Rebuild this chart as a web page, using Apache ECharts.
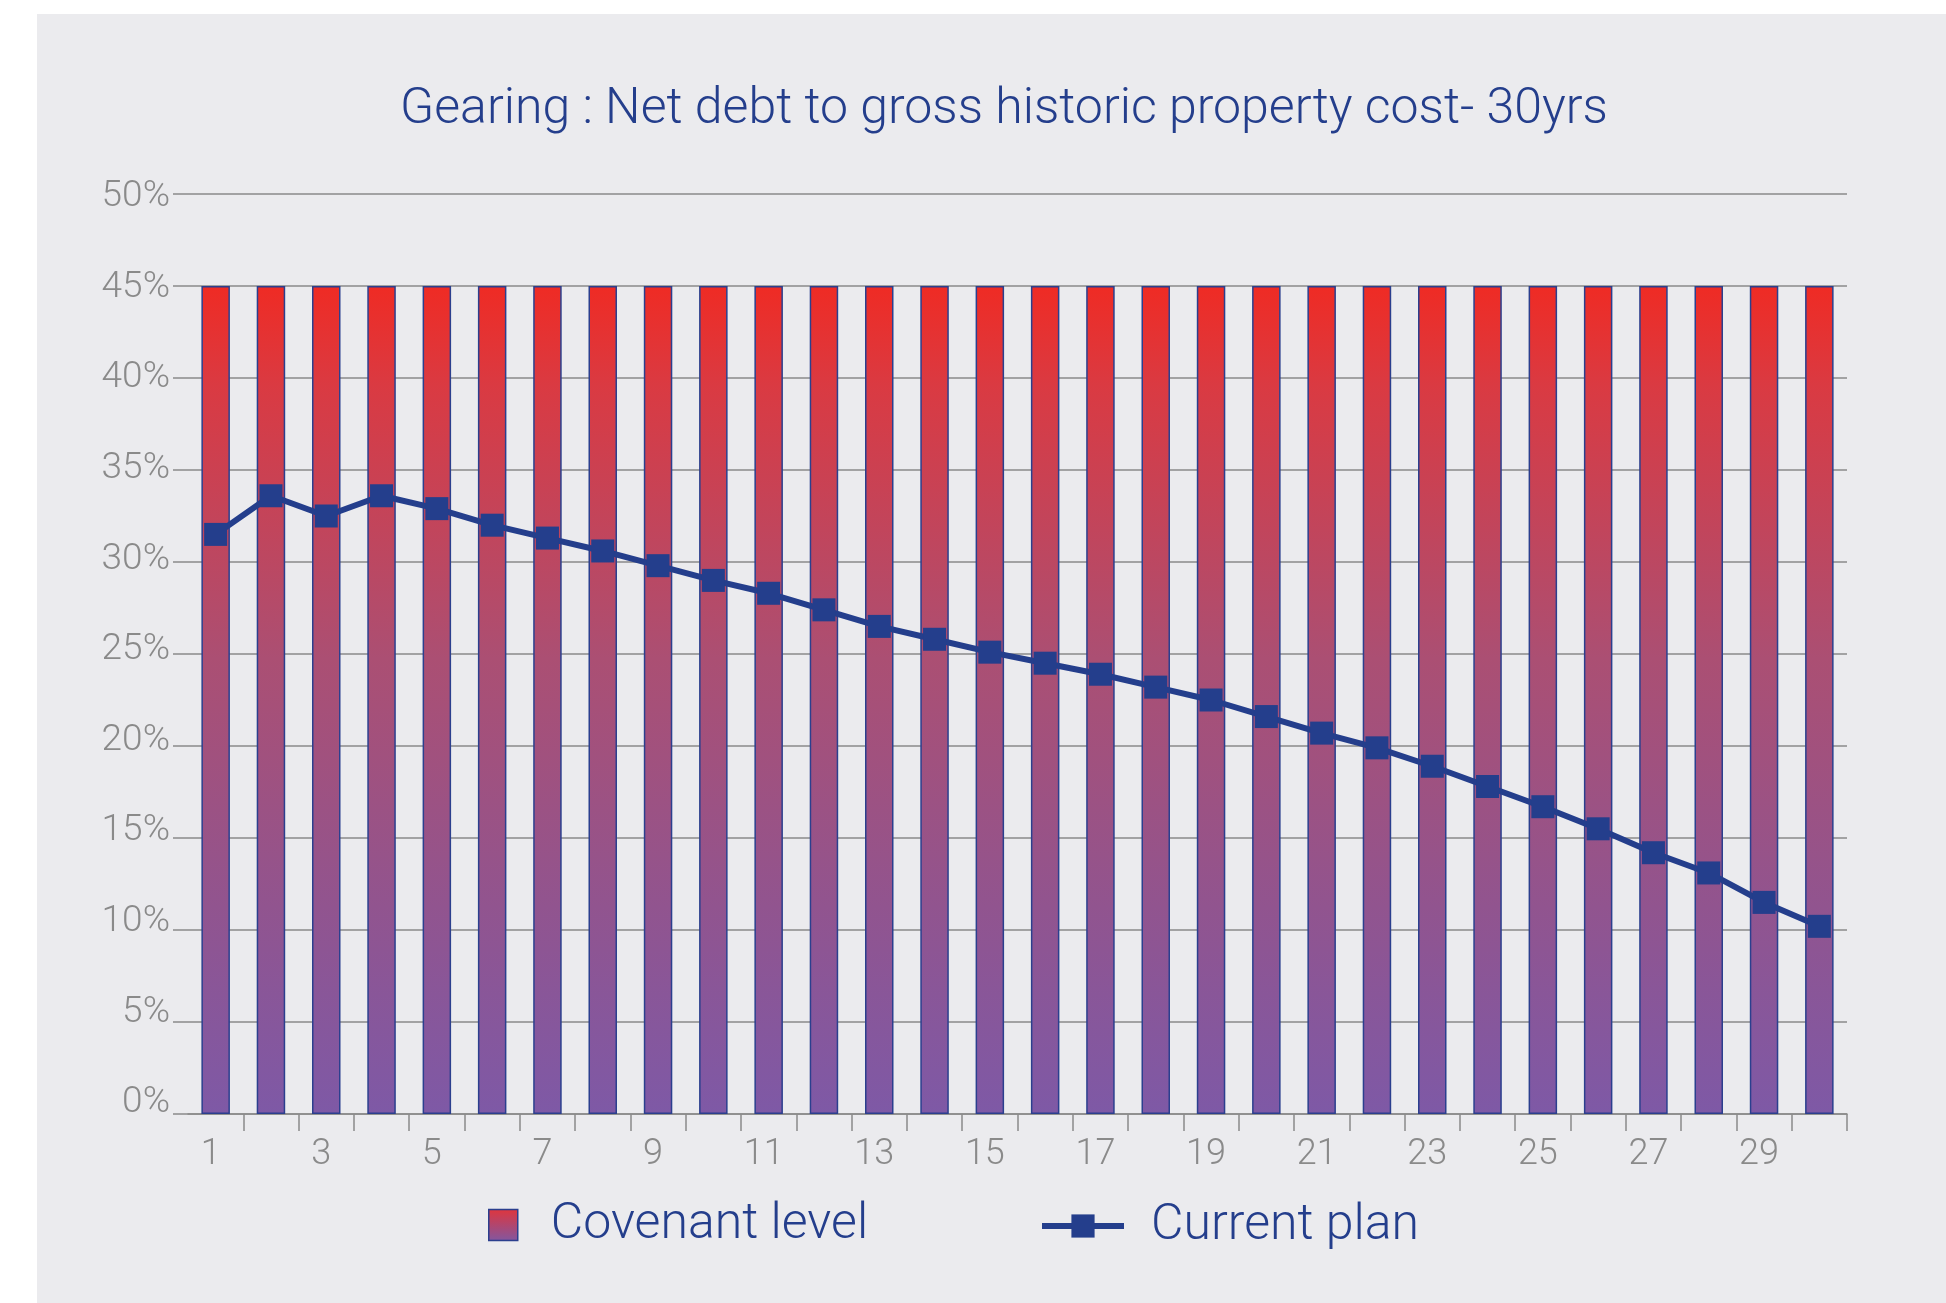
<!DOCTYPE html>
<html>
<head>
<meta charset="utf-8">
<title>Gearing</title>
<script src="https://cdn.jsdelivr.net/npm/echarts@6/dist/echarts.min.js"></script>
<style>
  html, body { margin: 0; padding: 0; background: #ffffff; }
  #chart { width: 1946px; height: 1303px; }
</style>
</head>
<body>
<div id="chart"></div>
<script>
// Years of the 30-year plan
const years = ['1','2','3','4','5','6','7','8','9','10','11','12','13','14','15',
               '16','17','18','19','20','21','22','23','24','25','26','27','28','29','30'];

// Covenant ceiling on gearing (%)
const covenantLevel = [45,45,45,45,45,45,45,45,45,45,45,45,45,45,45,
                       45,45,45,45,45,45,45,45,45,45,45,45,45,45,45];

// Net debt / gross historic property cost under the current plan (%)
const currentPlan = [31.5,33.6,32.5,33.6,32.9,32.0,31.3,30.6,29.8,29.0,
                     28.3,27.4,26.5,25.8,25.1,24.5,23.9,23.2,22.5,21.6,
                     20.7,19.9,18.9,17.8,16.7,15.5,14.2,13.1,11.5,10.2];

// Gearing axis ticks (%)
const yTicks = [0, 5, 10, 15, 20, 25, 30, 35, 40, 45, 50];

const navy = '#243e8c';
const grey = '#8a8a8a';
const FONT = 'Roboto';

const barFill = new echarts.graphic.LinearGradient(0, 0, 0, 1, [
  { offset: 0,    color: '#ef2b24' },
  { offset: 0.12, color: '#da3a42' },
  { offset: 0.45, color: '#ab4f73' },
  { offset: 0.75, color: '#91548f' },
  { offset: 1,    color: '#7e59a6' }
]);

const legendFill = new echarts.graphic.LinearGradient(0, 0, 0, 1, [
  { offset: 0, color: '#e0353c' },
  { offset: 1, color: '#8257a0' }
]);

// y labels sit a little higher the lower they are on the axis
const yLabelRich = {};
yTicks.forEach(function (v) {
  const pad = Math.round(2 * (0.28 * (50 - v) - 3));
  yLabelRich['t' + v] = {
    color: grey, fontFamily: FONT, fontWeight: 300, fontSize: 37,
    lineHeight: 40, padding: pad >= 0 ? [0, 0, pad, 0] : [-pad, 0, 0, 0]
  };
});

const chart = echarts.init(document.getElementById('chart'), null, { renderer: 'canvas' });

chart.setOption({
  backgroundColor: '#ffffff',
  animation: false,
  graphic: [{
    type: 'rect',
    z: -10,
    shape: { x: 37, y: 14, width: 1946 - 37, height: 1303 - 14 },
    style: { fill: '#ebebee' }
  }],
  title: {
    text: 'Gearing : Net debt to gross historic property cost- 30yrs',
    left: 999,
    top: 80,
    textAlign: 'center',
    textStyle: { color: navy, fontFamily: FONT, fontWeight: 300, fontSize: 50 }
  },
  legend: [{
    data: [{ name: 'Covenant level', icon: 'rect', itemStyle: { color: legendFill } }],
    left: 483,
    top: 1195,
    itemWidth: 29,
    itemHeight: 31,
    itemStyle: { borderColor: '#2b3f8e', borderWidth: 1.5 },
    textStyle: { color: navy, fontFamily: FONT, fontWeight: 300, fontSize: 50, padding: [0, 0, 0, 28] }
  }, {
    data: ['Current plan'],
    left: 1034,
    top: 1196,
    itemWidth: 82,
    itemHeight: 29,
    lineStyle: { width: 6, color: navy },
    textStyle: { color: navy, fontFamily: FONT, fontWeight: 300, fontSize: 50, padding: [0, 0, 0, 22] }
  }],
  grid: { left: 188, right: 99, top: 194, bottom: 189, containLabel: false },
  xAxis: {
    type: 'category',
    data: years,
    boundaryGap: true,
    axisLine: { show: true, lineStyle: { color: grey, width: 1.5 } },
    axisTick: {
      show: true,
      length: 17,
      interval: function (index) { return index !== 0; },
      lineStyle: { color: grey, width: 1.5 }
    },
    axisLabel: {
      interval: 1,
      margin: 23,
      color: grey,
      fontFamily: FONT,
      fontWeight: 300,
      fontSize: 36,
      padding: [0, 10, 0, 0]
    },
    splitLine: { show: false }
  },
  yAxis: {
    type: 'value',
    min: yTicks[0],
    max: yTicks[yTicks.length - 1],
    interval: yTicks[1] - yTicks[0],
    axisLine: { show: false },
    axisTick: { show: true, length: 15, lineStyle: { color: grey, width: 1.5 } },
    splitLine: { show: true, lineStyle: { color: grey, width: 1.5 } },
    axisLabel: {
      margin: 18,
      formatter: function (v) { return '{t' + v + '|' + v + '%}'; },
      rich: yLabelRich
    }
  },
  series: [{
    name: 'Covenant level',
    type: 'bar',
    data: covenantLevel,
    barWidth: 28.5,
    itemStyle: { color: barFill, borderColor: '#2b3f8e', borderWidth: 1.5 },
    z: 2
  }, {
    name: 'Current plan',
    type: 'line',
    data: currentPlan,
    symbol: 'rect',
    symbolSize: 23,
    lineStyle: { color: navy, width: 6 },
    itemStyle: { color: navy },
    z: 3
  }]
});
</script>
</body>
</html>
